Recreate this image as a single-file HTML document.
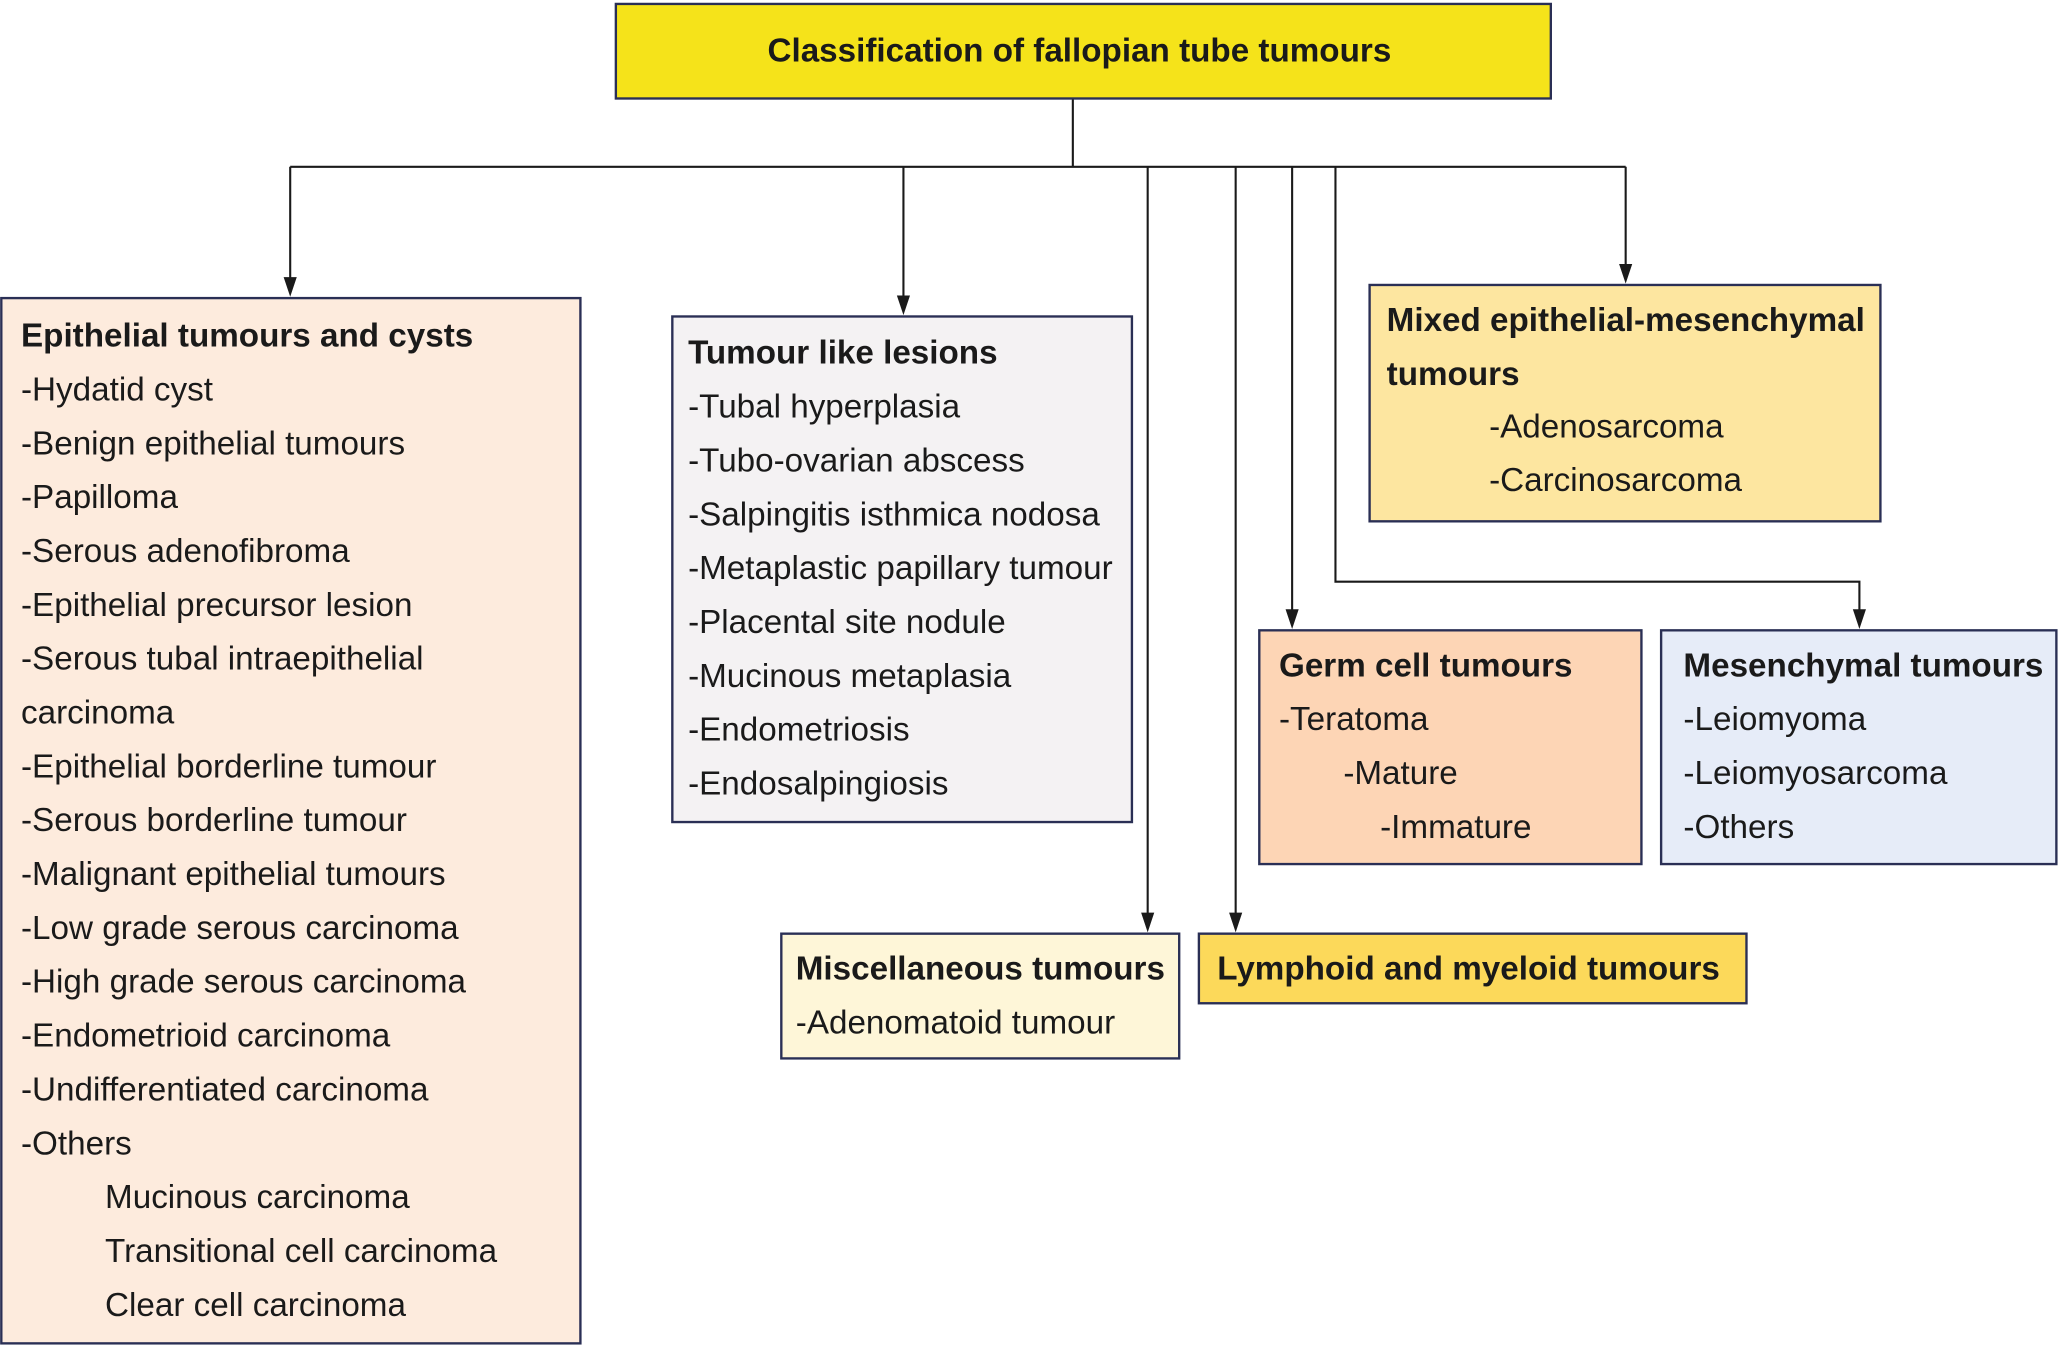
<!DOCTYPE html>
<html><head><meta charset="utf-8"><style>
html,body{margin:0;padding:0;background:#fff;}
svg{display:block;}
text{font-family:"Liberation Sans",Arial,sans-serif;font-size:25.3px;fill:#1a1a1a;}
.b{font-weight:bold;}
</style></head><body>
<svg width="2059" height="1346" viewBox="0 0 1568 1025" preserveAspectRatio="none" xmlns="http://www.w3.org/2000/svg">
<g stroke="#1a1a1a" stroke-width="1.6" fill="none">
<path d="M817,75 V127 M221,127 H1238"/>
<path d="M221,127 V218"/>
<path d="M688,127 V232"/>
<path d="M874,127 V702"/>
<path d="M941,127 V702"/>
<path d="M984,127 V471"/>
<path d="M1017,127 V443 H1416 V471"/>
<path d="M1238,127 V208"/>
</g>
<g fill="#1a1a1a">
<polygon points="216,211 226,211 221,226"/>
<polygon points="683,225 693,225 688,240"/>
<polygon points="869,695 879,695 874,710"/>
<polygon points="936,695 946,695 941,710"/>
<polygon points="979,464 989,464 984,479"/>
<polygon points="1411,464 1421,464 1416,479"/>
<polygon points="1233,201 1243,201 1238,216"/>
</g>
<g stroke="#2a2f55" stroke-width="1.8">
<rect x="469" y="3" width="712" height="72" fill="#f5e31a"/>
<rect x="1" y="227" width="441" height="796" fill="#fdebdd"/>
<rect x="512" y="241" width="350" height="385" fill="#f4f2f3"/>
<rect x="1043" y="217" width="389" height="180" fill="#fde6a0"/>
<rect x="959" y="480" width="291" height="178" fill="#fdd5b5"/>
<rect x="1265" y="480" width="301" height="178" fill="#e6ecf8"/>
<rect x="595" y="711" width="303" height="95" fill="#fef6d8"/>
<rect x="913" y="711" width="417" height="53" fill="#fcd95a"/>
</g>
<text class="b" x="822" y="47" text-anchor="middle">Classification of fallopian tube tumours</text>
<g>
<text class="b" x="16" y="264">Epithelial tumours and cysts</text>
<text x="16" y="305">-Hydatid cyst</text>
<text x="16" y="346">-Benign epithelial tumours</text>
<text x="16" y="387">-Papilloma</text>
<text x="16" y="428">-Serous adenofibroma</text>
<text x="16" y="469">-Epithelial precursor lesion</text>
<text x="16" y="510">-Serous tubal intraepithelial</text>
<text x="16" y="551">carcinoma</text>
<text x="16" y="592">-Epithelial borderline tumour</text>
<text x="16" y="633">-Serous borderline tumour</text>
<text x="16" y="674">-Malignant epithelial tumours</text>
<text x="16" y="715">-Low grade serous carcinoma</text>
<text x="16" y="756">-High grade serous carcinoma</text>
<text x="16" y="797">-Endometrioid carcinoma</text>
<text x="16" y="838">-Undifferentiated carcinoma</text>
<text x="16" y="879">-Others</text>
<text x="80" y="920">Mucinous carcinoma</text>
<text x="80" y="961">Transitional cell carcinoma</text>
<text x="80" y="1002">Clear cell carcinoma</text>
</g>
<g>
<text class="b" x="524" y="277">Tumour like lesions</text>
<text x="524" y="318">-Tubal hyperplasia</text>
<text x="524" y="359">-Tubo-ovarian abscess</text>
<text x="524" y="400">-Salpingitis isthmica nodosa</text>
<text x="524" y="441">-Metaplastic papillary tumour</text>
<text x="524" y="482">-Placental site nodule</text>
<text x="524" y="523">-Mucinous metaplasia</text>
<text x="524" y="564">-Endometriosis</text>
<text x="524" y="605">-Endosalpingiosis</text>
</g>
<g>
<text class="b" x="1056" y="252">Mixed epithelial-mesenchymal</text>
<text class="b" x="1056" y="293">tumours</text>
<text x="1134" y="333">-Adenosarcoma</text>
<text x="1134" y="374">-Carcinosarcoma</text>
</g>
<g>
<text class="b" x="974" y="515">Germ cell tumours</text>
<text x="974" y="556">-Teratoma</text>
<text x="1023" y="597">-Mature</text>
<text x="1051" y="638">-Immature</text>
</g>
<g>
<text class="b" x="1282" y="515">Mesenchymal tumours</text>
<text x="1282" y="556">-Leiomyoma</text>
<text x="1282" y="597">-Leiomyosarcoma</text>
<text x="1282" y="638">-Others</text>
</g>
<text class="b" x="606" y="746">Miscellaneous tumours</text>
<text x="606" y="787">-Adenomatoid tumour</text>
<text class="b" x="927" y="746">Lymphoid and myeloid tumours</text>
</svg>
</body></html>
